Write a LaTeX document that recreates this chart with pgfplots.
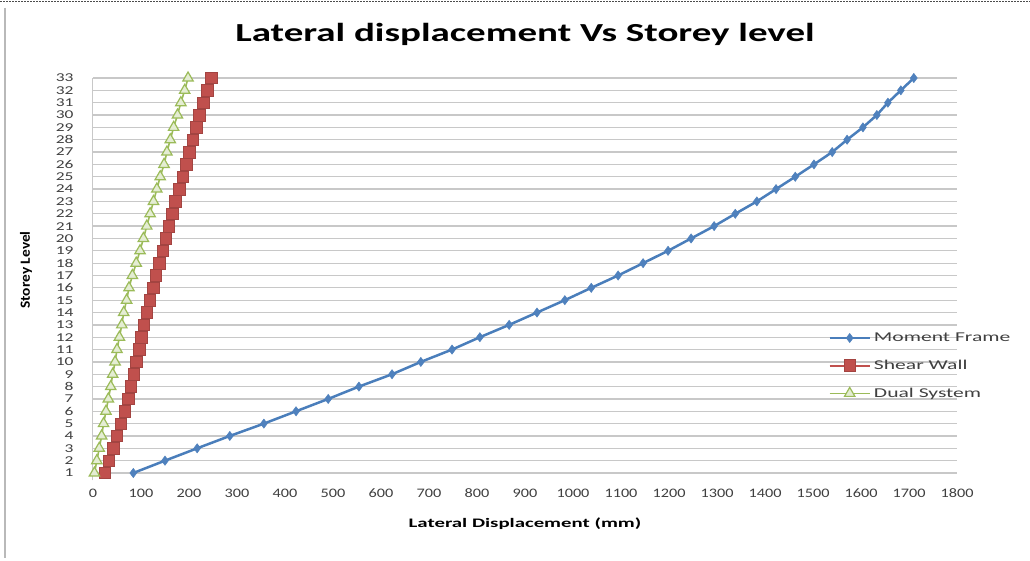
\documentclass[border=0pt]{standalone}
\usepackage{fontspec}
\usepackage{pgfplots}
\pgfplotsset{compat=1.18}
\setmainfont{Carlito}
\newfontfamily\titlefont[FakeStretch=1.5]{Carlito}
\newfontfamily\tickfont[FakeStretch=1.25]{Carlito}
\newfontfamily\ytickfont[FakeStretch=1.45]{Carlito}
\newfontfamily\labfont[FakeStretch=1.6]{Carlito}
\newfontfamily\ylabfont[FakeStretch=1.1]{Carlito}
\newfontfamily\legfont[FakeStretch=1.6]{Carlito}
\definecolor{mfblue}{HTML}{4F81BD}
\definecolor{mfline}{HTML}{4A7EBB}
\definecolor{swred}{HTML}{C0504D}
\definecolor{dsgreen}{HTML}{9BBB59}
\definecolor{dsfill}{HTML}{E4EDD3}
\definecolor{gridc}{HTML}{C8C8C8}

\pgfplotstableread{
level mf sw ds
1 84 25 3
2 150 33 8
3 217 42 13
4 285 50 18
5 356 58 22
6 423 66 27
7 490 73 32
8 554 79 37
9 623 85 41
10 683 90 46
11 748 96 50
12 806 101 55
13 867 106 60
14 925 112 64
15 983 118 70
16 1038 125 75
17 1094 131 82
18 1146 138 90
19 1198 145 98
20 1246 152 105
21 1294 158 112
22 1338 165 119
23 1383 172 126
24 1423 180 133
25 1463 187 140
26 1502 194 148
27 1540 201 154
28 1571 208 161
29 1604 215 168
30 1633 222 176
31 1656 230 183
32 1683 238 191
33 1710 247 198
}\datatable

\begin{document}
\begin{tikzpicture}
\path[use as bounding box] (0,0) rectangle (1030pt,-561pt);
\fill[white] (0,0) rectangle (1030pt,-561pt);
\draw[dash pattern=on 2pt off 1pt, line width=1pt, black!70] (0,-1.5pt) -- (1030pt,-1.5pt);
\draw[gray!55, line width=2.5pt] (5pt,-8pt) -- (5pt,-558pt);
\begin{axis}[
  at={(93pt,-480.4pt)}, anchor=south west,
  scale only axis, width=864pt, height=402.4pt,
  xmin=0, xmax=1800, ymin=0.4, ymax=33,
  xtick={0,100,...,1800}, ytick={1,...,33},
  axis lines*=left,
  x axis line style={draw=none},
  y axis line style={gridc, line width=1pt},
  major tick length=0pt,
  ymajorgrids,
  major grid style={gridc, line width=1.3pt},
  /pgf/number format/assume math mode=true,
  /pgf/number format/1000 sep={},
  xticklabel style={font=\tickfont\fontsize{13}{13}\selectfont\color{black!75}, yshift=-5pt},
  yticklabel style={font=\ytickfont\fontsize{12}{12}\selectfont\color{black!75}, xshift=-16pt},
  xlabel={Lateral Displacement (mm)},
  xlabel style={font=\labfont\bfseries\fontsize{13}{13}\selectfont, at={(axis description cs:0.5,0)}, anchor=center, yshift=-43pt},
  ylabel={Storey Level},
  ylabel style={font=\ylabfont\bfseries\fontsize{14}{14}\selectfont, at={(axis description cs:-0.0775,0.523)}, anchor=center},
  title={Lateral displacement Vs Storey level},
  title style={font=\titlefont\bfseries\fontsize{26}{26}\selectfont, at={(axis description cs:0.5,1)}, anchor=center, yshift=38pt},
  legend style={at={(axis description cs:0.851,0.372)}, anchor=north west, draw=none, fill=none,
    font=\legfont\fontsize{13.5}{13.5}\selectfont\color{black!75}, row sep=13pt, inner sep=0pt,
    /tikz/every odd column/.style={column sep=1pt}},
  legend cell align=left,
  legend image code/.code={\draw[mark repeat=2,mark phase=2] plot coordinates {(0pt,0pt) (20pt,0pt) (40pt,0pt)};},
  clip=false,
]
\addplot[color=mfline, line width=2.5pt, mark=diamond*, mark size=4.6pt, mark options={fill=mfblue, draw=mfblue, line width=0.5pt}] table[x=mf, y=level] {\datatable};
\addlegendentry{Moment Frame}
\addplot[color=swred, line width=2pt, mark=square*, mark size=5.8pt, mark options={fill=swred, draw=swred!85!black, line width=0.6pt}] table[x=sw, y=level] {\datatable};
\addlegendentry{Shear Wall}
\addplot[color=dsgreen, line width=1.6pt, mark=triangle*, mark size=6pt, mark options={fill=dsfill, draw=dsgreen, line width=1.2pt}] table[x=ds, y=level] {\datatable};
\addlegendentry{Dual System}
\end{axis}
\end{tikzpicture}
\end{document}
